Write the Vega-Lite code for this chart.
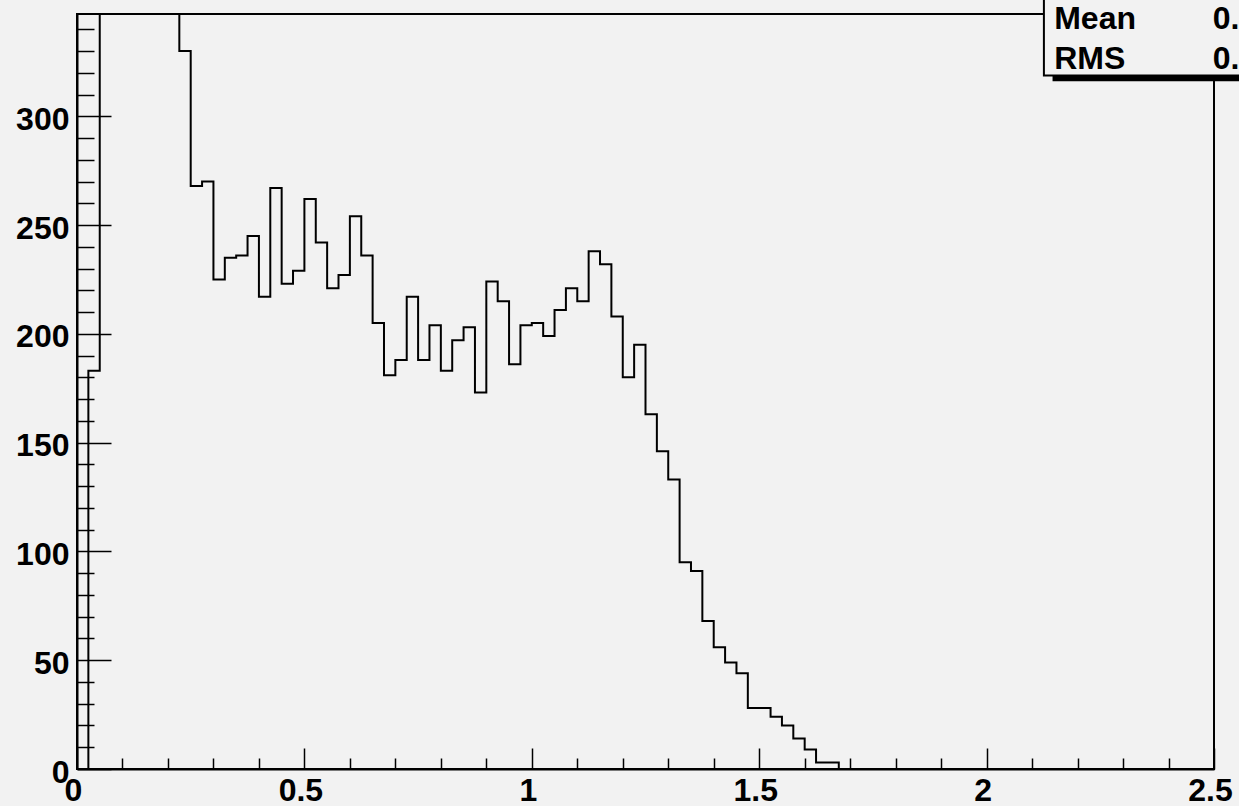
{
  "$schema": "https://vega.github.io/schema/vega-lite/v6.json",
  "width": 1137,
  "height": 755,
  "autosize": {"type": "none"},
  "padding": {"left": 77, "top": 14, "right": 25, "bottom": 37},
  "background": "#f2f2f2",
  "config": {
    "view": {"stroke": "black", "strokeWidth": 2, "fill": "#f2f2f2"},
    "axis": {
      "domainColor": "black", "domainWidth": 2,
      "tickColor": "black", "tickWidth": 1.5,
      "labelFont": "Liberation Sans", "labelFontWeight": "bold", "labelFontSize": 32, "labelColor": "black",
      "grid": false, "title": null, "labelFlush": false, "labelOverlap": false
    }
  },
  "datasets": {
    "hist": [
      {"x": 0.000, "count": 0},
      {"x": 0.025, "count": 183},
      {"x": 0.050, "count": 520},
      {"x": 0.075, "count": 610},
      {"x": 0.100, "count": 580},
      {"x": 0.125, "count": 500},
      {"x": 0.150, "count": 450},
      {"x": 0.175, "count": 410},
      {"x": 0.200, "count": 370},
      {"x": 0.225, "count": 330},
      {"x": 0.250, "count": 268},
      {"x": 0.275, "count": 270},
      {"x": 0.300, "count": 225},
      {"x": 0.325, "count": 235},
      {"x": 0.350, "count": 236},
      {"x": 0.375, "count": 245},
      {"x": 0.400, "count": 217},
      {"x": 0.425, "count": 267},
      {"x": 0.450, "count": 223},
      {"x": 0.475, "count": 229},
      {"x": 0.500, "count": 262},
      {"x": 0.525, "count": 242},
      {"x": 0.550, "count": 221},
      {"x": 0.575, "count": 227},
      {"x": 0.600, "count": 254},
      {"x": 0.625, "count": 236},
      {"x": 0.650, "count": 205},
      {"x": 0.675, "count": 181},
      {"x": 0.700, "count": 188},
      {"x": 0.725, "count": 217},
      {"x": 0.750, "count": 188},
      {"x": 0.775, "count": 204},
      {"x": 0.800, "count": 183},
      {"x": 0.825, "count": 197},
      {"x": 0.850, "count": 203},
      {"x": 0.875, "count": 173},
      {"x": 0.900, "count": 224},
      {"x": 0.925, "count": 215},
      {"x": 0.950, "count": 186},
      {"x": 0.975, "count": 204},
      {"x": 1.000, "count": 205},
      {"x": 1.025, "count": 199},
      {"x": 1.050, "count": 211},
      {"x": 1.075, "count": 221},
      {"x": 1.100, "count": 215},
      {"x": 1.125, "count": 238},
      {"x": 1.150, "count": 232},
      {"x": 1.175, "count": 208},
      {"x": 1.200, "count": 180},
      {"x": 1.225, "count": 195},
      {"x": 1.250, "count": 163},
      {"x": 1.275, "count": 146},
      {"x": 1.300, "count": 133},
      {"x": 1.325, "count": 95},
      {"x": 1.350, "count": 91},
      {"x": 1.375, "count": 68},
      {"x": 1.400, "count": 56},
      {"x": 1.425, "count": 49},
      {"x": 1.450, "count": 44},
      {"x": 1.475, "count": 28},
      {"x": 1.500, "count": 28},
      {"x": 1.525, "count": 24},
      {"x": 1.550, "count": 20},
      {"x": 1.575, "count": 14},
      {"x": 1.600, "count": 9},
      {"x": 1.625, "count": 3},
      {"x": 1.650, "count": 3},
      {"x": 1.675, "count": 0},
      {"x": 2.500, "count": 0}
    ]
  },
  "resolve": {"axis": {"x": "independent", "y": "independent"}},
  "layer": [
    {
      "data": {"name": "hist"},
      "mark": {"type": "line", "interpolate": "step-after", "color": "black", "strokeWidth": 2, "clip": true},
      "encoding": {
        "x": {"field": "x", "type": "quantitative",
              "scale": {"domain": [0, 2.5], "nice": false, "zero": false},
              "axis": {"orient": "bottom", "values": [0, 0.5, 1, 1.5, 2, 2.5], "format": "~g", "tickSize": -21, "labelPadding": 27, "labelOffset": -4}},
        "y": {"field": "count", "type": "quantitative",
              "scale": {"domain": [0, 347], "nice": false},
              "axis": {"orient": "left", "values": [0, 50, 100, 150, 200, 250, 300], "format": "d", "tickSize": -34, "labelPadding": 42, "labelOffset": 3}}
      }
    },
    {
      "data": {"values": [{}]},
      "mark": {"type": "rect", "color": "black", "clip": false},
      "encoding": {
        "x": {"datum": 2.145, "type": "quantitative",
              "scale": {"domain": [0, 2.5], "nice": false, "zero": false},
              "axis": {"orient": "bottom", "values": [0.1, 0.2, 0.3, 0.4, 0.6, 0.7, 0.8, 0.9, 1.1, 1.2, 1.3, 1.4, 1.6, 1.7, 1.8, 1.9, 2.1, 2.2, 2.3, 2.4], "tickSize": -11, "labels": false, "domain": false}},
        "x2": {"datum": 2.7},
        "y": {"datum": 316.1, "type": "quantitative",
              "scale": {"domain": [0, 347], "nice": false},
              "axis": {"orient": "left", "values": [10, 20, 30, 40, 60, 70, 80, 90, 110, 120, 130, 140, 160, 170, 180, 190, 210, 220, 230, 240, 260, 270, 280, 290, 310, 320, 330, 340], "tickSize": -17, "labels": false, "domain": false}},
        "y2": {"datum": 330}
      }
    },
    {
      "data": {"values": [{}]},
      "mark": {"type": "rect", "fill": "#f2f2f2", "stroke": "black", "strokeWidth": 2, "clip": false},
      "encoding": {
        "x": {"datum": 2.126, "type": "quantitative", "scale": {"domain": [0, 2.5], "nice": false, "zero": false}, "axis": null},
        "x2": {"datum": 2.7},
        "y": {"datum": 318.7, "type": "quantitative", "scale": {"domain": [0, 347], "nice": false}, "axis": null},
        "y2": {"datum": 380}
      }
    },
    {
      "data": {"values": [{}]},
      "mark": {"type": "text", "text": "Mean", "align": "left", "baseline": "alphabetic", "font": "Liberation Sans", "fontWeight": "bold", "fontSize": 32, "color": "black", "clip": false},
      "encoding": {
        "x": {"datum": 2.1486, "type": "quantitative", "scale": {"domain": [0, 2.5], "nice": false, "zero": false}, "axis": null},
        "y": {"datum": 340.3, "type": "quantitative", "scale": {"domain": [0, 347], "nice": false}, "axis": null}
      }
    },
    {
      "data": {"values": [{}]},
      "mark": {"type": "text", "text": "RMS", "align": "left", "baseline": "alphabetic", "font": "Liberation Sans", "fontWeight": "bold", "fontSize": 32, "color": "black", "clip": false},
      "encoding": {
        "x": {"datum": 2.1486, "type": "quantitative", "scale": {"domain": [0, 2.5], "nice": false, "zero": false}, "axis": null},
        "y": {"datum": 321.5, "type": "quantitative", "scale": {"domain": [0, 347], "nice": false}, "axis": null}
      }
    },
    {
      "data": {"values": [{}]},
      "mark": {"type": "text", "text": "0.", "align": "left", "baseline": "alphabetic", "font": "Liberation Sans", "fontWeight": "bold", "fontSize": 32, "color": "black", "clip": false},
      "encoding": {
        "x": {"datum": 2.497, "type": "quantitative", "scale": {"domain": [0, 2.5], "nice": false, "zero": false}, "axis": null},
        "y": {"datum": 340.3, "type": "quantitative", "scale": {"domain": [0, 347], "nice": false}, "axis": null}
      }
    },
    {
      "data": {"values": [{}]},
      "mark": {"type": "text", "text": "0.", "align": "left", "baseline": "alphabetic", "font": "Liberation Sans", "fontWeight": "bold", "fontSize": 32, "color": "black", "clip": false},
      "encoding": {
        "x": {"datum": 2.497, "type": "quantitative", "scale": {"domain": [0, 2.5], "nice": false, "zero": false}, "axis": null},
        "y": {"datum": 321.5, "type": "quantitative", "scale": {"domain": [0, 347], "nice": false}, "axis": null}
      }
    }
  ]
}
